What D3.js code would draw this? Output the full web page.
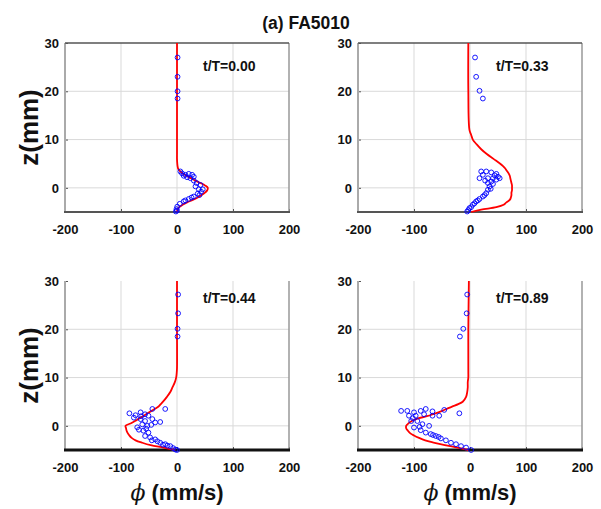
<!DOCTYPE html>
<html>
<head>
<meta charset="utf-8">
<title>FA5010</title>
<script src="https://cdn.jsdelivr.net/npm/d3@7"></script>
<style>
    body { margin: 0; background: #fff; }
    svg { font-family: "Liberation Sans", Arial, sans-serif; }
    .tick-label { font-size: 13px; font-weight: bold; fill: #111; }
    .grid line { stroke: #d9d9d9; stroke-width: 1; }
</style>
</head>
<body>
<script>
// ---- data ----
var panelLabels = ["t/T=0.00", "t/T=0.33", "t/T=0.44", "t/T=0.89"];
var xTicks = [-200, -100, 0, 100, 200];
var yTicks = [0, 10, 20, 30];

// model profile (red line), same z levels for every panel
var zModel = [30, 20, 12, 11, 10, 9, 8, 7, 6, 5, 4.5, 4, 3.5, 3, 2.5, 2, 1.5, 1, 0.5, 0,
              -0.5, -1, -1.5, -2, -2.5, -3, -3.5, -4, -4.5, -5];
var phiModel1 = [0, 0, 0, 0, 0, 0, 0, 0, 0, 0.5, 1, 2, 5, 10, 17, 25, 33, 42, 50, 55,
                 54, 50, 44, 37, 28, 18, 10, 4, 1, 0];
var phiModel2 = [-3, -3, -1, 2, 5, 12, 20, 30, 42, 54, 59, 63, 66, 69, 71, 72, 73, 74, 75, 75,
                 75, 74, 74, 73, 71, 65, 60, 47, 20, 2];
var phiModel3 = [0, 0, 0, -0.5, -1.5, -4, -8, -12, -18, -25, -29, -33, -40, -47, -54, -61, -68, -75, -83, -92,
                 -91, -90, -88, -85, -81, -74, -62, -47, -24, -3];
var phiModel4 = [-2, -3, -3, -3, -3, -4, -4, -5, -7, -13, -21, -32, -42, -52, -64, -77, -94, -104, -110, -114,
                 -114, -111, -107, -100, -91, -80, -63, -45, -22, -3];

// measurements (blue circles)
var obsPhi1 = [1, 1, 1, 1, 6, 9, 15, 21, 27, 30, 24, 18, 12, 30, 35, 42, 33, 39, 43, 46, 37, 30, 21, 12, 5, 0.4, -1, -2, 0, 26, 40, 15];
var obsZ1   = [27, 23, 20, 18.5, 3.4, 3.0, 2.7, 2.9, 2.7, 2.3, 2.0, 2.2, 2.5, 1.5, 1.0, 0.6, 0.3, -0.3, -0.8, -0.3, -1.2, -1.8, -2.3, -2.8, -3.3, -3.9, -4.4, -4.9, -4.7, -2.0, -1.5, -2.6];

var obsPhi2 = [9, 11, 17, 23, 20, 29, 38, 47, 50, 23, 17, 32, 41, 47, 38, 32, 41, 35, 32, 29, 23, 17, 11, 5, -1, -5, 53, 27, 44, 37, 26, 14, 8, 2, -3];
var obsZ2   = [27, 23, 20.1, 18.5, 3.4, 3.4, 3.2, 2.9, 2.3, 2.7, 2.0, 2.0, 2.0, 1.7, 1.3, 1.0, 0.8, 0.3, -0.4, -1.1, -1.8, -2.3, -2.8, -3.5, -4.2, -4.9, 2.0, 1.5, 2.6, -0.2, -1.5, -2.6, -3.2, -4.0, -4.6];

var obsPhi3 = [2, 2, 1, 1, -44, -21, -85, -65, -57, -51, -77, -65, -57, -44, -39, -30, -62, -53, -71, -60, -51, -57, -48, -39, -30, -21, -12, -3, -74, -68, -46, -64, -55, -45, -35, -25, -17, -7, 0];
var obsZ3   = [27.2, 23.3, 20.1, 18.5, 3.5, 3.5, 2.6, 2.8, 2.4, 2.1, 1.7, 1.4, 1.0, 1.4, 0.7, 0.8, 0.3, 0, -0.3, -1.0, -1.4, -2.1, -2.4, -2.8, -3.5, -3.8, -4.2, -4.9, 2.2, -0.8, 0.2, 2.0, -0.6, -3.0, -3.2, -3.9, -4.1, -4.6, -5];

var obsPhi4 = [-5, -6, -12, -18, -123, -112, -100, -88, -109, -97, -82, -67, -55, -19, -105, -94, -85, -73, -100, -88, -79, -70, -61, -52, -43, -34, -25, -16, -7, 2, -79, -46, -67, -102, -90, -66, -56];
var obsZ4   = [27.2, 23.3, 20.1, 18.5, 3.1, 3.1, 2.8, 3.1, 2.1, 2.1, 2.4, 2.1, 2.1, 2.6, 1.0, 1.0, 0.35, 0, -0.35, -0.9, -1.4, -1.7, -2.1, -2.6, -3.0, -3.5, -3.8, -4.2, -4.5, -5.0, 3.5, 3.3, 3.0, 1.6, -0.2, -1.9, -2.3];

var models = [phiModel1, phiModel2, phiModel3, phiModel4];
var obsPhi = [obsPhi1, obsPhi2, obsPhi3, obsPhi4];
var obsZ = [obsZ1, obsZ2, obsZ3, obsZ4];

// ---- layout ----
var w = 601, h = 509;
var lefts = [65, 358, 65, 358];
var tops = [43, 43, 281, 281];
var pw = 224, ph = 169;

var svg = d3.select("body").append("svg")
    .attr("width", w)
    .attr("height", h);

svg.append("text")
    .attr("x", 306)
    .attr("y", 29)
    .attr("text-anchor", "middle")
    .attr("font-size", "17.5px")
    .attr("font-weight", "bold")
    .attr("fill", "#111")
    .text("(a) FA5010");

panelLabels.forEach(function(label, p) {
    var left = lefts[p], top = tops[p];
    var bottomRow = p >= 2;
    var x = d3.scaleLinear().domain([-200, 200]).range([left, left + pw]);
    var y = d3.scaleLinear().domain([-5, 30]).range([top + ph, top]);
    var g = svg.append("g");

    // grid
    var grid = g.append("g").attr("class", "grid");
    grid.selectAll("line.vx")
        .data(xTicks.slice(1, -1))
        .enter().append("line")
        .attr("x1", function(d) { return x(d); })
        .attr("x2", function(d) { return x(d); })
        .attr("y1", top).attr("y2", top + ph);
    grid.selectAll("line.hy")
        .data(yTicks.slice(0, -1))
        .enter().append("line")
        .attr("x1", left).attr("x2", left + pw)
        .attr("y1", function(d) { return y(d); })
        .attr("y2", function(d) { return y(d); });

    // axes with inward ticks, plain hyphen minus like the original
    var fmt = function(d) { return String(d); };
    var xAxis = g.append("g")
        .attr("transform", "translate(0," + (top + ph) + ")")
        .call(d3.axisBottom(x).tickValues(xTicks).tickFormat(fmt).tickSizeInner(-3).tickSizeOuter(0).tickPadding(10));
    var yAxis = g.append("g")
        .attr("transform", "translate(" + left + ",0)")
        .call(d3.axisLeft(y).tickValues(yTicks).tickFormat(fmt).tickSizeInner(-3).tickSizeOuter(0).tickPadding(6));
    [xAxis, yAxis].forEach(function(a) {
        a.select(".domain").remove();
        a.selectAll(".tick line").attr("stroke", "#555");
        a.selectAll(".tick text")
            .attr("class", "tick-label")
            .attr("font-family", null)
            .attr("font-size", null)
            .attr("fill", null);
    });
    xAxis.selectAll(".tick text").attr("dy", "0.95em");

    // box
    g.append("line")
        .attr("x1", left).attr("x2", left)
        .attr("y1", top).attr("y2", top + ph)
        .attr("stroke", "#aaa").attr("stroke-width", 2);
    g.append("line")
        .attr("x1", left + pw).attr("x2", left + pw)
        .attr("y1", top).attr("y2", top + ph)
        .attr("stroke", "#999").attr("stroke-width", 1.5);
    if (!bottomRow) {
        g.append("line")
            .attr("x1", left).attr("x2", left + pw)
            .attr("y1", top).attr("y2", top)
            .attr("stroke", "#555").attr("stroke-width", 1.5);
    }
    g.append("line")
        .attr("x1", left - 1).attr("x2", left + pw + 1)
        .attr("y1", top + ph).attr("y2", top + ph)
        .attr("stroke", bottomRow ? "#111" : "#555")
        .attr("stroke-width", bottomRow ? 3 : 2);

    // model curve
    var line = d3.line()
        .x(function(d, i) { return x(models[p][i]); })
        .y(function(d) { return y(d); })
        .curve(d3.curveCatmullRom);
    g.append("path")
        .datum(zModel)
        .attr("d", line)
        .attr("fill", "none")
        .attr("stroke", "#ff0000")
        .attr("stroke-width", 1.8);

    // observations
    g.selectAll("circle")
        .data(obsPhi[p])
        .enter().append("circle")
        .attr("cx", function(d) { return x(d); })
        .attr("cy", function(d, i) { return y(obsZ[p][i]); })
        .attr("r", 2.4)
        .attr("fill", "none")
        .attr("stroke", "#0000ff")
        .attr("stroke-width", 0.9);

    // panel label
    g.append("text")
        .attr("x", left + 138)
        .attr("y", top + (bottomRow ? 22 : 28))
        .attr("font-size", "14px")
        .attr("font-weight", "bold")
        .attr("fill", "#111")
        .text(label);

    // y label on left column
    if (p % 2 === 0) {
        g.append("text")
            .attr("transform", "translate(38," + (top + ph / 2) + ") rotate(-90)")
            .attr("text-anchor", "middle")
            .attr("font-size", "26px")
            .attr("font-weight", "bold")
            .attr("fill", "#111")
            .text("z(mm)");
    }

    // x label on bottom row
    if (bottomRow) {
        var xl = g.append("text")
            .attr("x", left + pw / 2)
            .attr("y", 500)
            .attr("text-anchor", "middle")
            .attr("font-size", "22px")
            .attr("font-weight", "bold")
            .attr("fill", "#111");
        xl.append("tspan").attr("font-style", "italic").attr("font-weight", "normal")
            .attr("font-family", "'DejaVu Serif', serif").text("\u03D5");
        xl.append("tspan").text(" (mm/s)");
    }
});
</script>
</body>
</html>
